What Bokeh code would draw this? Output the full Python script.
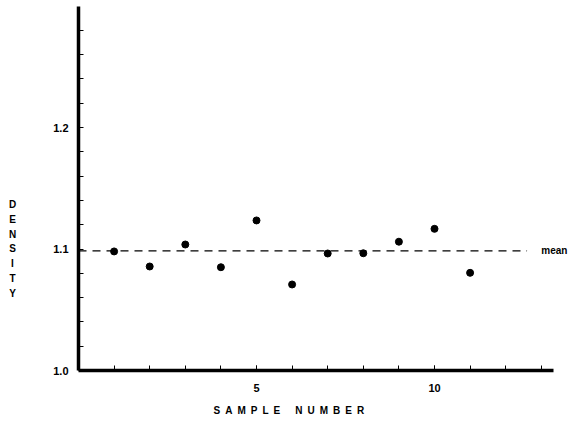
from bokeh.plotting import figure
from bokeh.models import Range1d, FixedTicker, Label
from bokeh.embed import file_html
from bokeh.resources import INLINE

# data
sample = [1, 2, 3, 4, 5, 6, 7, 8, 9, 10, 11]
density = [1.098, 1.0856, 1.1037, 1.085, 1.1235, 1.0708, 1.0963, 1.0965, 1.106, 1.1166, 1.0804]
mean_value = 1.0985
mean_x = [0, 12.6]
x_major = [5, 10]
x_minor = [1, 2, 3, 4, 5, 6, 7, 8, 9, 10, 11, 12, 13]
y_major = [1.0, 1.1, 1.2]
y_minor = [1.02, 1.04, 1.06, 1.08, 1.12, 1.14, 1.16, 1.18, 1.22, 1.24, 1.26, 1.28]
x_bounds = (0, 13.35)
y_bounds = (1.0, 1.3)

FONT = "Liberation Sans"

# layout: frame covers the canvas; axes are pinned with fixed_location
W, H = 571, 415
X0_PX, XSCALE = 78, 35.6      # px of x=0, px per unit
Y0_PX, YSCALE = 370, 1215     # px of y=1.0, px per unit
x_range = Range1d(-X0_PX / XSCALE, (W - X0_PX) / XSCALE)
y_range = Range1d(1.0 - (H - Y0_PX) / YSCALE, 1.0 + Y0_PX / YSCALE)

p = figure(width=W, height=H, output_backend="svg", toolbar_location=None,
           x_range=x_range, y_range=y_range,
           min_border_left=0, min_border_right=0, min_border_top=0, min_border_bottom=0)
p.outline_line_color = None
p.xgrid.visible = False
p.ygrid.visible = False
p.background_fill_color = "white"

for ax in (p.xaxis[0], p.yaxis[0]):
    ax.axis_line_width = 3.5
    ax.axis_line_color = "black"
    ax.major_tick_in = 5
    ax.major_tick_out = 0
    ax.minor_tick_in = 5
    ax.minor_tick_out = 0
    ax.major_tick_line_color = "black"
    ax.minor_tick_line_color = "black"
    ax.major_label_text_font = FONT
    ax.major_label_text_font_size = "11px"
    ax.major_label_text_font_style = "bold"
    ax.major_label_text_color = "black"

p.xaxis.fixed_location = 1.0
p.yaxis.fixed_location = 0
p.xaxis.bounds = x_bounds
p.yaxis.bounds = y_bounds
p.xaxis.ticker = FixedTicker(ticks=x_major, minor_ticks=x_minor)
p.yaxis.ticker = FixedTicker(ticks=y_major, minor_ticks=y_minor)
p.xaxis.major_label_standoff = 13
p.yaxis.major_label_standoff = 10
p.yaxis.major_label_overrides = {1.0: "1.0", 1.1: "1.1", 1.2: "1.2"}

p.line(mean_x, [mean_value, mean_value], line_color="black", line_width=1.2, line_dash="8 6")
p.scatter(sample, density, size=7, color="black")

p.add_layout(Label(x=13.0, y=mean_value, text="mean", text_font=FONT,
                   text_font_size="10px", text_font_style="bold",
                   text_baseline="middle", text_align="left", text_color="black"))
sp = "\u2002"
xlabel = sp.join("SAMPLE") + sp * 3 + sp.join("NUMBER")
p.add_layout(Label(x=5.91, y=0.967, text=xlabel, text_font=FONT, text_font_size="10px",
                   text_font_style="bold",
                   text_baseline="middle", text_align="center", text_color="black"))
p.add_layout(Label(x=-1.854, y=1.1, text="\n".join("DENSITY"), text_font=FONT,
                   text_font_size="10px", text_font_style="bold",
                   text_baseline="middle", text_align="center", text_color="black",
                   text_line_height=1.34))

open("out.html", "w").write(file_html(p, INLINE))
